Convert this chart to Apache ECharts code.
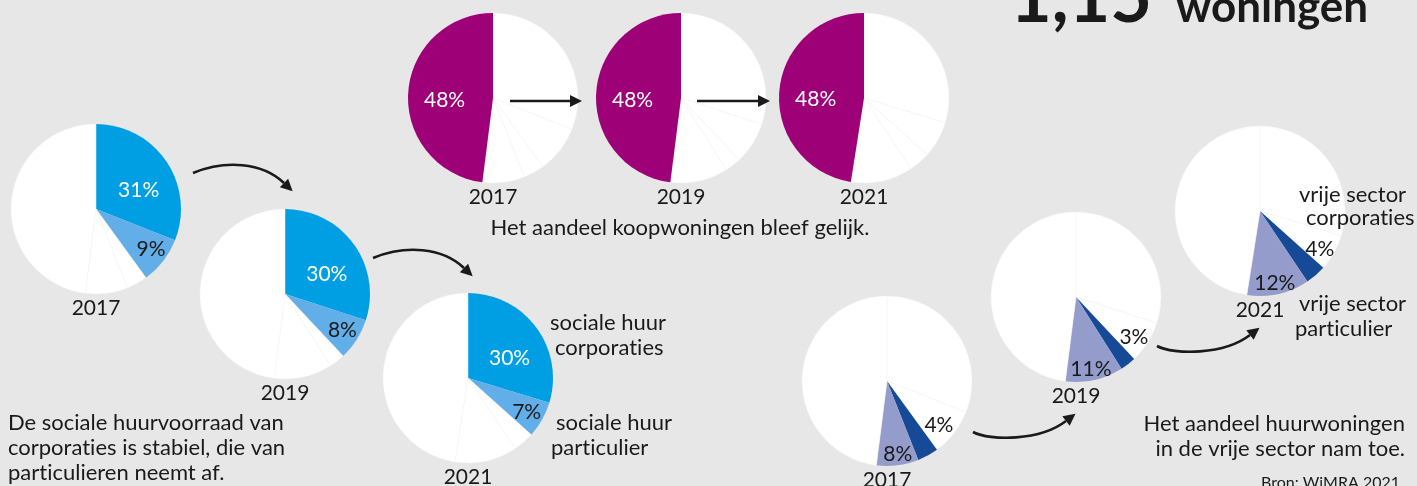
<!DOCTYPE html>
<html>
<head>
<meta charset="utf-8">
<script src="https://cdn.jsdelivr.net/npm/echarts@6/dist/echarts.min.js"></script>
<style>
  html, body { margin: 0; padding: 0; background: #e7e7e7; }
  #chart { width: 1417px; height: 486px; }
</style>
</head>
<body>
<div id="chart"></div>
<script>
// woningvoorraad naar eigendom, aandeel in %
const categories = ['sociale huur corporaties', 'sociale huur particulier', 'vrije sector corporaties', 'vrije sector particulier', 'koop']
const years = ['2017', '2019', '2021']
const socialeCorp = [31, 30, 30]
const socialePart = [9, 8, 7]
const vrijeCorp = [4, 3, 4]
const vrijePart = [8, 11, 12]
const koop = [48, 48, 48]

const values = [socialeCorp, socialePart, vrijeCorp, vrijePart, koop]
const colors = ['#009fe3', '#62aee8', '#174a96', '#949ccb', '#9e0078']
const FONT = 'Lato'
const INK = '#1a1a1a'
const R = 85

// which slices are coloured in each group, and where the pies sit
const groups = [
  { show: [0, 1], centers: [[96, 209], [285, 294], [468, 378]], shift: { 0: [5, 7], 1: [19, 12] } },
  { show: [4], centers: [[493, 98], [681, 98], [864, 98]], shift: { 4: [-3, 5] } },
  { show: [2, 3], centers: [[887, 381], [1076, 297], [1260, 211]], shift: { 2: [30, 4], 3: [5, 28] } }
]
const whiteText = [0, 4]

var series = []
var graphics = []

// Lato joins "ti" into a ligature, the original font does not
function noLig(s) { return s.replace(/ti/g, 't\u200Ci') }

function txt(x, y, text, opt) {
  opt = opt || {}
  return {
    type: 'text', x: x, y: y, z: 100,
    style: {
      text: noLig(text), fontSize: opt.size || 22, fontFamily: FONT, fontWeight: opt.weight || 'normal',
      fill: INK, align: opt.align || 'left', verticalAlign: opt.valign || 'middle', lineHeight: opt.lh || 25
    }
  }
}

groups.forEach(function (g) {
  g.centers.forEach(function (c, yi) {
    series.push({
      type: 'pie',
      center: c,
      radius: R,
      startAngle: 90,
      clockwise: true,
      silent: true,
      animation: false,
      labelLine: { show: false },
      label: { position: 'inside', formatter: '{c}%', fontSize: 21, fontFamily: FONT },
      labelLayout: function (p) {
        var s = g.shift[p.dataIndex]
        return s ? { dx: s[0], dy: s[1] } : {}
      },
      data: categories.map(function (name, i) {
        var on = g.show.indexOf(i) >= 0
        return {
          name: name,
          value: values[i][yi],
          itemStyle: on ? { color: colors[i] } : { color: '#ffffff', borderColor: '#f3f3f3', borderWidth: 0.5 },
          label: { show: on, color: whiteText.indexOf(i) >= 0 ? '#ffffff' : INK }
        }
      })
    })
    graphics.push(txt(c[0], c[1] + 99, years[yi], { align: 'center', size: 21 }))
  })
})

function arrow(p0, c1, c2, e) {
  var dx = e[0] - c2[0], dy = e[1] - c2[1]
  var l = Math.sqrt(dx * dx + dy * dy)
  dx /= l; dy /= l
  var L = 12, W = 6
  var tip = [e[0] + dx * L, e[1] + dy * L]
  graphics.push({
    type: 'bezierCurve', z: 100,
    shape: { x1: p0[0], y1: p0[1], cpx1: c1[0], cpy1: c1[1], cpx2: c2[0], cpy2: c2[1], x2: e[0], y2: e[1] },
    style: { stroke: INK, lineWidth: 2.6, fill: null }
  })
  graphics.push({
    type: 'polygon', z: 100,
    shape: { points: [tip, [e[0] - dy * W, e[1] + dx * W], [e[0] + dy * W, e[1] - dx * W]] },
    style: { fill: INK }
  })
}

function straight(x1, x2, y) {
  graphics.push({
    type: 'line', z: 100,
    shape: { x1: x1, y1: y, x2: x2 - 12, y2: y },
    style: { stroke: INK, lineWidth: 2.6 }
  })
  graphics.push({
    type: 'polygon', z: 100,
    shape: { points: [[x2, y], [x2 - 12, y - 6], [x2 - 12, y + 6]] },
    style: { fill: INK }
  })
}

function moved(pts, ox, oy) {
  return pts.map(function (p) { return [p[0] + ox, p[1] + oy] })
}

var downArc = [[193, 173], [225, 160], [262, 162], [284, 183]]
var upArc = [[973, 432], [990, 441], [1040, 441], [1066, 421]]
arrow.apply(null, downArc)
arrow.apply(null, moved(downArc, 180, 85))
arrow.apply(null, upArc)
arrow.apply(null, moved(upArc, 184, -86))
straight(510, 582, 101)
straight(697, 770, 101)

graphics.push(
  txt(680, 228, 'Het aandeel koopwoningen bleef gelijk.', { align: 'center' }),
  txt(8, 448, 'De sociale huurvoorraad van\ncorporaties is stabiel, die van\nparticulieren neemt af.'),
  txt(1405, 436, 'Het aandeel huurwoningen\nin de vrije sector nam toe.', { align: 'right' }),
  txt(1400, 483, 'Bron: WiMRA 2021', { align: 'right', size: 16 }),
  txt(550, 323, 'sociale huur'),
  txt(555, 348, 'corporaties'),
  txt(556, 423, 'sociale huur'),
  txt(551, 448, 'particulier'),
  txt(1299, 195, 'vrije sector'),
  txt(1306, 218, 'corporaties'),
  txt(1299, 304, 'vrije sector'),
  txt(1295, 329, 'particulier'),
  txt(1010, 35, '1,15', { size: 72, weight: 'bold', valign: 'bottom', lh: 72 }),
  txt(1176, 30, 'woningen', { size: 44, weight: 'bold', valign: 'bottom', lh: 44 })
)

var chart = echarts.init(document.getElementById('chart'))
chart.setOption({
  backgroundColor: '#e7e7e7',
  animation: false,
  series: series,
  graphic: graphics
})
</script>
</body>
</html>
